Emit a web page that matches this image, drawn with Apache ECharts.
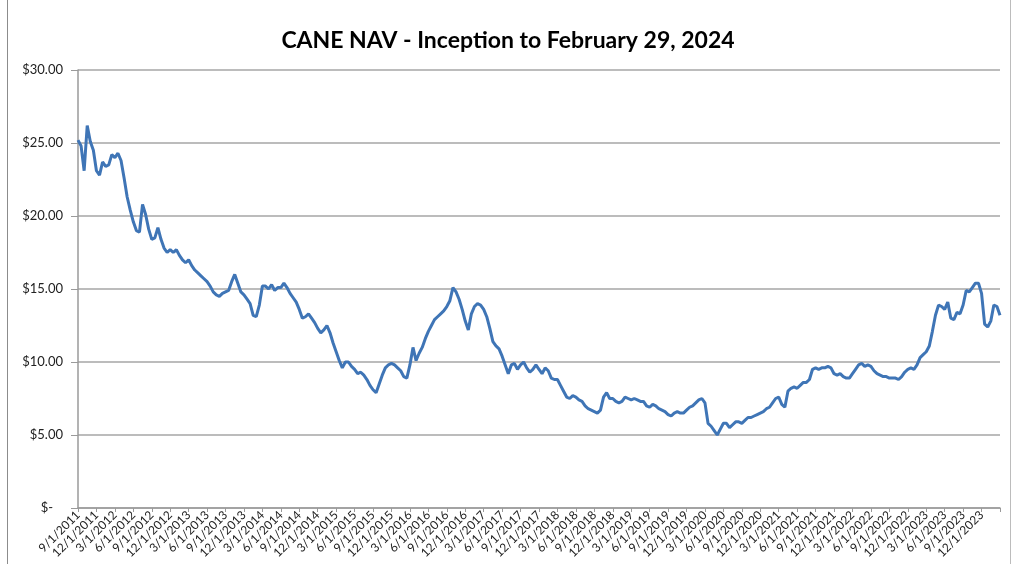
<!DOCTYPE html>
<html>
<head>
<meta charset="utf-8">
<script src="https://cdn.jsdelivr.net/npm/echarts@6/dist/echarts.min.js"></script>
<style>
html,body{margin:0;padding:0;background:#fff;}
#chart{width:1016px;height:564px;}
</style>
</head>
<body>
<div id="chart"></div>
<script>
// Title and axis text
var chartTitle = 'CANE NAV - Inception to February 29, 2024';
var yTicks = [0, 5, 10, 15, 20, 25, 30];

// Semi-monthly NAV observations (1st and 15th of each month), 9/1/2011 .. 2/29/2024
var navValues = [
  25.2, 24.8, 23.1, 26.2, 25.1, 24.5, 23.1, 22.8, 23.7, 23.4, 23.5, 24.2, 24.0, 24.3, 23.8, 22.6, 21.3, 20.4, 19.6, 19.0, 18.9, 20.8, 20.1, 19.1, 18.4,
  18.5, 19.2, 18.4, 17.8, 17.5, 17.7, 17.5, 17.7, 17.3, 17.0, 16.8, 17.0, 16.6, 16.3, 16.1, 15.9, 15.7, 15.5, 15.2, 14.8, 14.6, 14.5, 14.7, 14.8, 14.9,
  15.5, 16.0, 15.4, 14.8, 14.6, 14.3, 14.0, 13.2, 13.1, 13.9, 15.2, 15.2, 15.0, 15.3, 14.9, 15.1, 15.1, 15.4, 15.1, 14.7, 14.4, 14.1, 13.6, 13.0, 13.1,
  13.3, 13.0, 12.7, 12.3, 12.0, 12.2, 12.5, 12.0, 11.3, 10.7, 10.1, 9.6, 10.0, 10.0, 9.7, 9.5, 9.2, 9.3, 9.1, 8.8, 8.4, 8.1, 7.9, 8.5, 9.1,
  9.6, 9.8, 9.9, 9.8, 9.6, 9.4, 9.0, 8.9, 9.8, 11.0, 10.1, 10.6, 11.0, 11.6, 12.1, 12.5, 12.9, 13.1, 13.3, 13.5, 13.8, 14.2, 15.1, 14.8, 14.3,
  13.6, 12.8, 12.2, 13.3, 13.8, 14.0, 13.9, 13.6, 13.1, 12.3, 11.4, 11.1, 10.9, 10.4, 9.8, 9.2, 9.8, 9.9, 9.5, 9.8, 10.0, 9.6, 9.3, 9.5, 9.8,
  9.5, 9.2, 9.6, 9.4, 8.9, 8.8, 8.8, 8.4, 8.0, 7.6, 7.5, 7.7, 7.6, 7.4, 7.3, 7.0, 6.8, 6.7, 6.6, 6.5, 6.7, 7.6, 7.9, 7.5, 7.5,
  7.3, 7.2, 7.3, 7.6, 7.5, 7.4, 7.5, 7.4, 7.3, 7.3, 7.0, 6.9, 7.1, 7.0, 6.8, 6.7, 6.6, 6.4, 6.3, 6.5, 6.6, 6.5, 6.5, 6.7, 6.9,
  7.0, 7.2, 7.4, 7.5, 7.2, 5.8, 5.6, 5.3, 5.0, 5.4, 5.8, 5.8, 5.5, 5.7, 5.9, 5.9, 5.8, 6.0, 6.2, 6.2, 6.3, 6.4, 6.5, 6.6, 6.8,
  6.9, 7.2, 7.5, 7.6, 7.1, 6.9, 8.0, 8.2, 8.3, 8.2, 8.4, 8.6, 8.6, 8.8, 9.5, 9.6, 9.5, 9.6, 9.6, 9.7, 9.6, 9.2, 9.1, 9.2, 9.0,
  8.9, 8.9, 9.2, 9.5, 9.8, 9.9, 9.7, 9.8, 9.7, 9.4, 9.2, 9.1, 9.0, 9.0, 8.9, 8.9, 8.9, 8.8, 9.0, 9.3, 9.5, 9.6, 9.5, 9.8, 10.3,
  10.5, 10.7, 11.1, 12.1, 13.2, 13.9, 13.8, 13.6, 14.1, 13.0, 12.9, 13.4, 13.3, 13.9, 14.9, 14.8, 15.1, 15.4, 15.4, 14.7, 12.6, 12.4, 12.8, 13.9, 13.8,
  13.2
];

// Category dates: 1st and 15th of each month from 9/1/2011, ending 2/29/2024
var startYear = 2011, startMonth = 9, endLabel = '2/29/2024';
var categories = [];
(function () {
  var y = startYear, m = startMonth;
  while (categories.length < navValues.length - 1) {
    categories.push(m + '/1/' + y);
    if (categories.length < navValues.length - 1) categories.push(m + '/15/' + y);
    m++; if (m > 12) { m = 1; y++; }
  }
  categories.push(endLabel);
})();

function isQuarterTick(value) {
  var p = value.split('/');
  return p[1] === '1' && (+p[0]) % 3 === 0;
}

var chart = echarts.init(document.getElementById('chart'));
var fontFam = 'Lato, "Open Sans", sans-serif';
chart.setOption({
  animation: false,
  backgroundColor: '#ffffff',
  title: {
    text: chartTitle,
    left: 'center',
    top: 24,
    padding: [5, 0, 5, 16],
    textStyle: { fontFamily: fontFam, fontSize: 23, fontWeight: 'bold', color: '#000' }
  },
  grid: { left: 78, right: 16, top: 70, bottom: 56, containLabel: false },
  xAxis: {
    type: 'category',
    data: categories,
    boundaryGap: false,
    axisLine: { lineStyle: { color: '#9a9a9a', width: 1.5 } },
    axisTick: {
      show: true,
      length: 4,
      interval: function (idx, val) { return isQuarterTick(val) || idx === categories.length - 1; },
      lineStyle: { color: '#9a9a9a' }
    },
    axisLabel: {
      interval: function (idx, val) { return isQuarterTick(val); },
      rotate: 45,
      fontFamily: fontFam,
      fontSize: 12,
      color: '#222',
      margin: 5
    },
    splitLine: { show: false }
  },
  yAxis: {
    type: 'value',
    min: 0,
    max: 30,
    interval: 5,
    axisLine: { show: true, lineStyle: { color: '#9a9a9a', width: 1.5 } },
    axisTick: { show: true, length: 7, lineStyle: { color: '#9a9a9a' } },
    axisLabel: {
      fontFamily: fontFam,
      fontSize: 13,
      color: '#222',
      margin: 15,
      formatter: function (v) { return v === 0 ? '{z|$-}' : '$' + v.toFixed(2); },
      rich: { z: { fontFamily: fontFam, fontSize: 13, color: '#222', padding: [0, 10, 0, 0] } }
    },
    splitLine: { show: true, lineStyle: { color: '#a6a6a6', width: 1.5 } }
  },
  graphic: [
    { type: 'line', shape: { x1: 7.5, y1: 0, x2: 7.5, y2: 564 }, style: { stroke: '#8c8c8c', lineWidth: 1 } },
    { type: 'line', shape: { x1: 1010.5, y1: 0, x2: 1010.5, y2: 564 }, style: { stroke: '#bcbcbc', lineWidth: 1 } }
  ],
  series: [{
    type: 'line',
    data: navValues,
    showSymbol: false,
    symbol: 'none',
    lineStyle: { color: '#3f75b6', width: 3 },
    itemStyle: { color: '#3f75b6' }
  }]
});
</script>
</body>
</html>
